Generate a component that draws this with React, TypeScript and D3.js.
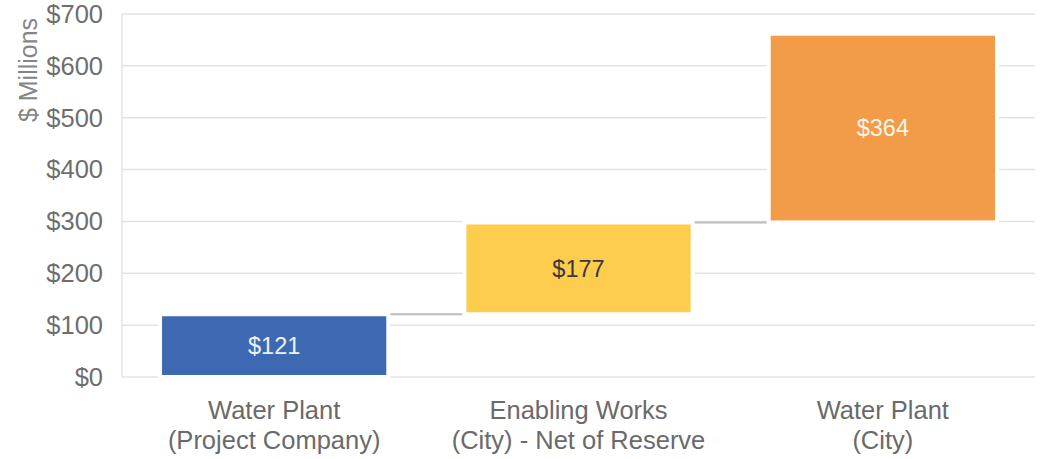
import React from "react";
import * as d3 from "d3";

const categories = ["Water Plant (Project Company)", "Enabling Works (City) - Net of Reserve", "Water Plant (City)"];
const labelLines = [["Water Plant", "(Project Company)"], ["Enabling Works", "(City) - Net of Reserve"], ["Water Plant", "(City)"]];
const values = [121, 177, 364];
const barColors = ["#3d69b3", "#fecd4e", "#f29b49"];
const valueLabelColors = ["#eef2fa", "#3a3a3a", "#fff4e8"];
const yTicks = [0, 100, 200, 300, 400, 500, 600, 700];

const W = 1040;
const H = 459;
const left = 122;
const right = 1035;
const top = 14;
const bottom = 377;

export default function App() {
  const x = d3.scaleBand<string>().domain(categories).range([left, right]).paddingInner(0.25).paddingOuter(0.125);
  const y = d3.scaleLinear().domain([0, 700]).range([bottom, top]);
  const ends = Array.from(d3.cumsum(values));
  const starts = ends.map((e, i) => e - values[i]);
  const font = "'Liberation Sans', Arial, sans-serif";

  return (
    <svg width={W} height={H} style={{ position: "absolute", left: 0, top: 0, background: "#fff" }} fontFamily={font}>
      {yTicks.map((t) => (
        <line key={"g" + t} x1={left} x2={right} y1={y(t)} y2={y(t)} stroke="#e3e3e3" strokeWidth={1.5} />
      ))}
      <line x1={left} x2={left} y1={top} y2={bottom} stroke="#e3e3e3" strokeWidth={1.5} />
      {yTicks.map((t) => (
        <text key={"t" + t} x={103} y={y(t)} dy="0.35em" textAnchor="end" fontSize={25.5} fill="#6e6e6e">
          {"$" + t}
        </text>
      ))}
      <text transform={`translate(37,70) rotate(-90)`} textAnchor="middle" fontSize={25} fill="#858585">
        $ Millions
      </text>
      {categories.slice(0, -1).map((c, i) => (
        <line
          key={"c" + i}
          x1={(x(c) as number) + x.bandwidth()}
          x2={x(categories[i + 1]) as number}
          y1={y(ends[i])}
          y2={y(ends[i])}
          stroke="#bdbdbd"
          strokeWidth={2}
        />
      ))}
      {categories.map((c, i) => (
        <rect
          key={"b" + i}
          x={x(c) as number}
          width={x.bandwidth()}
          y={y(ends[i])}
          height={y(starts[i]) - y(ends[i])}
          fill={barColors[i]}
          stroke="#fff"
          strokeWidth={4}
        />
      ))}
      {categories.map((c, i) => (
        <text
          key={"v" + i}
          x={(x(c) as number) + x.bandwidth() / 2}
          y={(y(starts[i]) + y(ends[i])) / 2}
          dy="0.35em"
          textAnchor="middle"
          fontSize={23.5}
          fill={valueLabelColors[i]}
        >
          {"$" + values[i]}
        </text>
      ))}
      {categories.map((c, i) => (
        <text key={"x" + i} x={(x(c) as number) + x.bandwidth() / 2} y={419} textAnchor="middle" fontSize={25.5} fill="#6a6a6a">
          {labelLines[i].map((l, j) => (
            <tspan key={j} x={(x(c) as number) + x.bandwidth() / 2} dy={j === 0 ? 0 : 30}>
              {l}
            </tspan>
          ))}
        </text>
      ))}
    </svg>
  );
}
